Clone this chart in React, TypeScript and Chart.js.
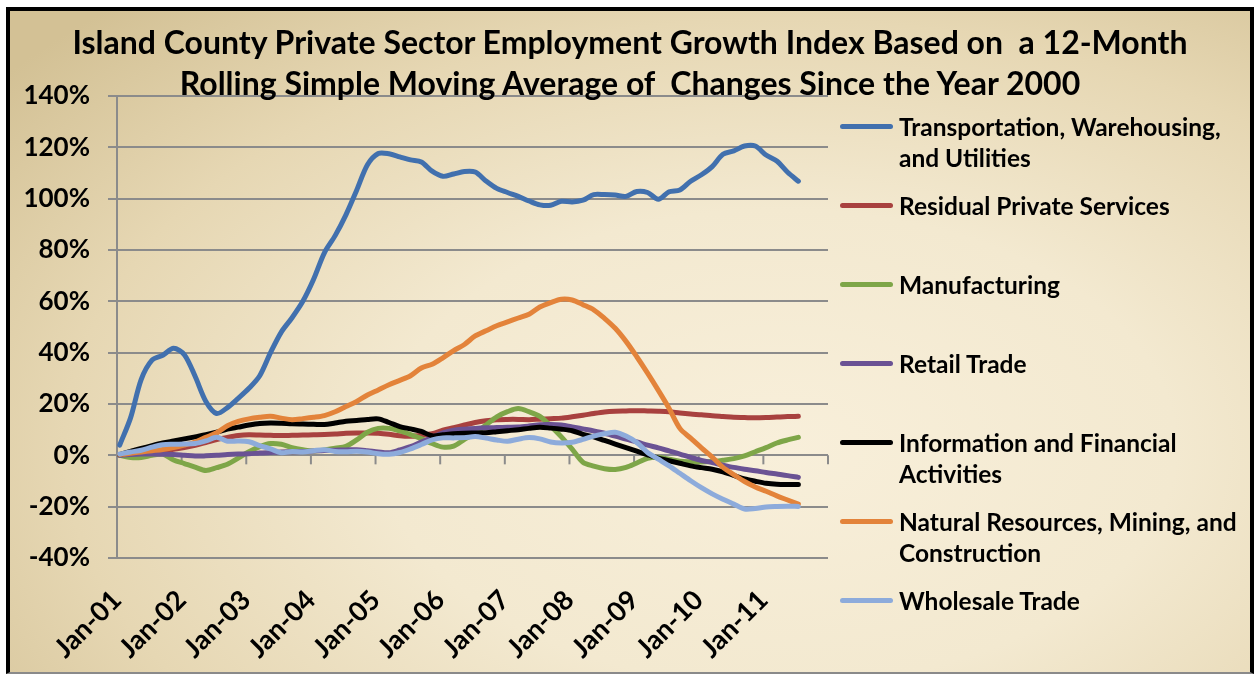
import React, { useEffect, useRef } from "react";
import { Chart, registerables } from "chart.js";

Chart.register(...registerables);

// Sample dates (every second month, Jan-01 .. Jul-11)
const categories = [
  "Jan-01", "Mar-01", "May-01", "Jul-01", "Sep-01", "Nov-01",
  "Jan-02", "Mar-02", "May-02", "Jul-02", "Sep-02", "Nov-02",
  "Jan-03", "Mar-03", "May-03", "Jul-03", "Sep-03", "Nov-03",
  "Jan-04", "Mar-04", "May-04", "Jul-04", "Sep-04", "Nov-04",
  "Jan-05", "Mar-05", "May-05", "Jul-05", "Sep-05", "Nov-05",
  "Jan-06", "Mar-06", "May-06", "Jul-06", "Sep-06", "Nov-06",
  "Jan-07", "Mar-07", "May-07", "Jul-07", "Sep-07", "Nov-07",
  "Jan-08", "Mar-08", "May-08", "Jul-08", "Sep-08", "Nov-08",
  "Jan-09", "Mar-09", "May-09", "Jul-09", "Sep-09", "Nov-09",
  "Jan-10", "Mar-10", "May-10", "Jul-10", "Sep-10", "Nov-10",
  "Jan-11", "Mar-11", "May-11", "Jul-11",
];

const yearTickLabels = [
  "Jan-01", "Jan-02", "Jan-03", "Jan-04", "Jan-05", "Jan-06",
  "Jan-07", "Jan-08", "Jan-09", "Jan-10", "Jan-11",
];

const yTickValues = [-40, -20, 0, 20, 40, 60, 80, 100, 120, 140];

const seriesNames = [
  "Transportation, Warehousing, and Utilities",
  "Residual Private Services",
  "Manufacturing",
  "Retail Trade",
  "Information and Financial Activities",
  "Natural Resources, Mining, and Construction",
  "Wholesale Trade",
];

const transportation = [
  4, 14.5, 29.6, 37.1, 39, 41.7, 39.2, 30.8, 21, 16.3,
  18.6, 22.2, 26.1, 31, 40, 48, 53.6, 60, 68.6, 78.9,
  85.6, 93.7, 103.3, 113.2, 117.6, 117.5, 116.3, 115.1, 114.3, 110.7,
  108.7, 109.6, 110.6, 110.4, 106.9, 104, 102.4, 100.9, 99.1, 97.6,
  97.4, 99, 98.7, 99.4, 101.6, 101.6, 101.4, 100.9, 102.8, 102.4,
  99.8, 102.7, 103.4, 106.8, 109.3, 112.5, 117.3, 118.6, 120.5, 120.5,
  117, 114.7, 110.3, 106.8,
];

const residualServices = [
  0, 0.4, 0.8, 1.3, 1.8, 2.4, 3, 3.9, 5, 6.1,
  7, 7.7, 8, 7.9, 7.8, 7.7, 7.8, 7.9, 8, 8.1,
  8.3, 8.6, 8.7, 8.7, 8.6, 8.2, 7.6, 7.4, 7.8, 8.4,
  9.8, 10.8, 11.8, 12.8, 13.5, 13.9, 14, 14, 13.9, 14.1,
  14.3, 14.5, 15, 15.6, 16.3, 16.9, 17.2, 17.3, 17.4, 17.3,
  17.2, 17, 16.5, 16.1, 15.8, 15.4, 15.1, 14.8, 14.7, 14.6,
  14.7, 14.9, 15.1, 15.2,
];

const manufacturing = [
  0, -0.8, -0.8, 0, 0.5, -1.8, -3.2, -4.6, -5.9, -4.8,
  -3.5, -1.1, 1.4, 3.4, 4.6, 4.3, 3, 2.2, 1.7, 2.1,
  2.8, 3.5, 6, 9, 10.5, 10.5, 9.5, 8.1, 6.5, 4.6,
  3.2, 3.6, 6.2, 8.7, 11.8, 15, 17, 18.2, 17, 15.2,
  11.5, 7.2, 2.4, -2.7, -4.2, -5.2, -5.5, -4.7, -3, -1.2,
  -0.8, -1.5, -2.3, -2.5, -2.6, -2.4, -1.9, -1.3, -0.2, 1.4,
  3, 4.8, 6, 7,
];

const retailTrade = [
  0, 0.3, 0.5, 0.5, 0.4, 0.3, 0, -0.3, -0.2, 0,
  0.3, 0.5, 0.6, 0.9, 1.1, 1.3, 1.4, 1.5, 1.7, 1.9,
  2, 2.1, 2.2, 1.8, 1.3, 1, 2.1, 3.4, 5.2, 7,
  8.8, 9.8, 10.2, 10.5, 10.7, 10.8, 10.9, 11, 11.4, 11.9,
  12, 11.8, 11.1, 10.3, 9.5, 8.6, 7.5, 6.3, 5.2, 4,
  2.9, 1.7, 0.5, -0.8, -2, -2.8, -3.8, -4.7, -5.4, -6,
  -6.7, -7.3, -7.9, -8.6,
];

const infoFinancial = [
  0.3, 1.5, 2.7, 3.8, 4.8, 5.6, 6.4, 7.2, 8, 9,
  10.2, 11, 11.8, 12.4, 12.6, 12.5, 12.3, 12.2, 12.1, 12,
  12.6, 13.3, 13.6, 14, 14.2, 12.8, 11.2, 10.3, 9.3, 7.6,
  8, 8.4, 8.6, 8.7, 8.8, 9.2, 9.6, 10, 10.5, 10.9,
  10.6, 10.2, 9.6, 8.2, 7.2, 5.8, 4.4, 3, 1.6, 0.2,
  -1.1, -2.1, -3.1, -4.1, -4.8, -5.4, -6.4, -7.8, -9.2, -10.1,
  -10.9, -11.3, -11.4, -11.4,
];

const naturalResources = [
  0.3, 0.8, 1.3, 1.8, 2.3, 3, 4, 5.2, 7, 8.8,
  11.5, 13.2, 14.2, 14.8, 15.2, 14.5, 13.9, 14.3, 14.8, 15.5,
  17, 19, 21, 23.5, 25.5, 27.5, 29.2, 31, 34, 35.5,
  38, 40.8, 43.2, 46.5, 48.5, 50.5, 52, 53.5, 55, 57.8,
  59.5, 60.8, 60.5, 58.7, 56.7, 53.4, 49.5, 44.4, 38.4, 32,
  25.3, 18.3, 10.5, 6.7, 2.9, -0.7, -4.7, -7.5, -10.2, -12.3,
  -14, -15.8, -17.4, -19,
];

const wholesaleTrade = [
  0.5, 1.3, 2, 3.2, 4.1, 4.3, 4.4, 4.6, 5.6, 7,
  5.5, 5.6, 5.3, 3.8, 2.5, 1, 1.5, 1.3, 1.8, 2.2,
  1.5, 1.4, 1.6, 1.3, 0.6, 0.4, 1.1, 2.5, 4.2, 6,
  6.8, 6.8, 6.9, 7.3, 6.7, 6, 5.5, 6.3, 6.9, 6.4,
  5.2, 4.8, 5.1, 6.2, 7.5, 8.4, 9, 7.5, 5, 1.1,
  -1.5, -4.1, -7, -9.9, -12.6, -15, -17.1, -19, -20.9, -20.7,
  -20.1, -19.9, -19.8, -19.9,
];

const seriesColors = [
  "#4170AE",
  "#A8413F",
  "#7EA648",
  "#6A5294",
  "#000000",
  "#E3833A",
  "#8DABDB",
];

const MONTH_NAMES = ["Jan", "Feb", "Mar", "Apr", "May", "Jun", "Jul", "Aug", "Sep", "Oct", "Nov", "Dec"];
const GRID = "#8b8b8b";
const FONT = "Lato, 'Open Sans', sans-serif";

function monthPosition(label: string): number {
  const [mon, yy] = label.split("-");
  return (parseInt(yy, 10) - 1) * 12 + MONTH_NAMES.indexOf(mon) + 0.5;
}

export default function App() {
  const canvasRef = useRef<HTMLCanvasElement>(null);

  useEffect(() => {
    const xs = categories.map(monthPosition);
    const values = [
      transportation,
      residualServices,
      manufacturing,
      retailTrade,
      infoFinancial,
      naturalResources,
      wholesaleTrade,
    ];

    const zeroLineTicks = {
      id: "zeroLineTicks",
      beforeDatasetsDraw(chart: any) {
        const { ctx } = chart;
        const xScale = chart.scales.x;
        const yScale = chart.scales.y;
        const y0 = yScale.getPixelForValue(0);
        ctx.save();
        ctx.strokeStyle = GRID;
        ctx.lineWidth = 2;
        xScale.ticks.forEach((t: any) => {
          const px = xScale.getPixelForValue(t.value);
          ctx.beginPath();
          ctx.moveTo(px, y0);
          ctx.lineTo(px, y0 + 9);
          ctx.stroke();
        });
        ctx.restore();
      },
    };

    const chart = new Chart(canvasRef.current as HTMLCanvasElement, {
      type: "line",
      data: {
        datasets: values.map((v, i) => ({
          label: seriesNames[i],
          data: v.map((y, j) => ({ x: xs[j], y })),
          borderColor: seriesColors[i],
          backgroundColor: seriesColors[i],
          borderWidth: 5,
          pointRadius: 0,
          tension: 0.3,
          fill: false,
          order: -i,
          borderCapStyle: "round",
          borderJoinStyle: "round",
        })),
      },
      options: {
        responsive: false,
        animation: false,
        layout: { padding: { top: 85, right: 422, bottom: 0, left: 0 } },
        plugins: {
          legend: { display: false },
          title: { display: false },
          tooltip: { enabled: false },
        },
        scales: {
          x: {
            type: "linear",
            min: 0,
            max: 132,
            grid: { display: false, drawTicks: false },
            border: { display: false },
            ticks: {
              stepSize: 12,
              autoSkip: false,
              maxRotation: 45,
              minRotation: 45,
              padding: 26,
              color: "#000",
              font: { family: FONT, size: 27, weight: "bold" },
              callback: (v: any) => yearTickLabels[Math.round(Number(v) / 12)] ?? "",
            },
            afterFit: (s: any) => {
              s.height = 114;
            },
          },
          y: {
            min: yTickValues[0],
            max: yTickValues[yTickValues.length - 1],
            ticks: {
              stepSize: 20,
              padding: 18,
              color: "#000",
              font: { family: FONT, size: 26, weight: "bold" },
              callback: (v: any) => `${v}%`,
            },
            grid: { color: GRID, lineWidth: 2, tickLength: 9 },
            border: { color: GRID, width: 2 },
            afterFit: (s: any) => {
              s.width = 107;
            },
          },
        },
      },
      plugins: [zeroLineTicks],
    } as any);

    return () => chart.destroy();
  }, []);

  return (
    <div style={{ position: "absolute", left: 0, top: 0, width: 1257, height: 675, background: "#ffffff" }}>
      <div
        style={{
          position: "absolute",
          left: 6,
          top: 7,
          width: 1248,
          height: 667,
          boxSizing: "border-box",
          borderStyle: "solid",
          borderColor: "#000",
          borderWidth: "4px 4px 2px 4px",
          borderBottomColor: "#8a8a8a",
          background:
            "radial-gradient(ellipse 80% 90% at 62% 66%, #f8efda 0%, #f3e9d0 40%, #e6d7b3 72%, #d3c195 100%)",
          overflow: "hidden",
        }}
      >
        <canvas
          ref={canvasRef}
          width={1240}
          height={661}
          style={{ position: "absolute", left: 0, top: 0, width: 1240, height: 661 }}
        />
        <div
          style={{
            position: "absolute",
            left: 0,
            top: 10,
            width: 1240,
            textAlign: "center",
            fontFamily: FONT,
            fontWeight: 700,
            fontSize: 32,
            lineHeight: "41px",
            whiteSpace: "pre",
            color: "#000",
          }}
        >
          {"Island County Private Sector Employment Growth Index Based on  a 12-Month\nRolling Simple Moving Average of  Changes Since the Year 2000"}
        </div>
        <div style={{ position: "absolute", left: 830, top: 99.5, width: 410 }}>
          {seriesNames.map((name, i) => (
            <div key={name} style={{ height: 79, display: "flex", alignItems: "flex-start" }}>
              <div
                style={{
                  width: 53,
                  height: 5,
                  borderRadius: 3,
                  background: seriesColors[i],
                  marginTop: 13,
                  marginRight: 6,
                  flex: "none",
                }}
              />
              <div
                style={{
                  width: 352,
                  fontFamily: FONT,
                  fontWeight: 700,
                  fontSize: 24.5,
                  lineHeight: "31px",
                  color: "#000",
                }}
              >
                {name}
              </div>
            </div>
          ))}
        </div>
      </div>
    </div>
  );
}
